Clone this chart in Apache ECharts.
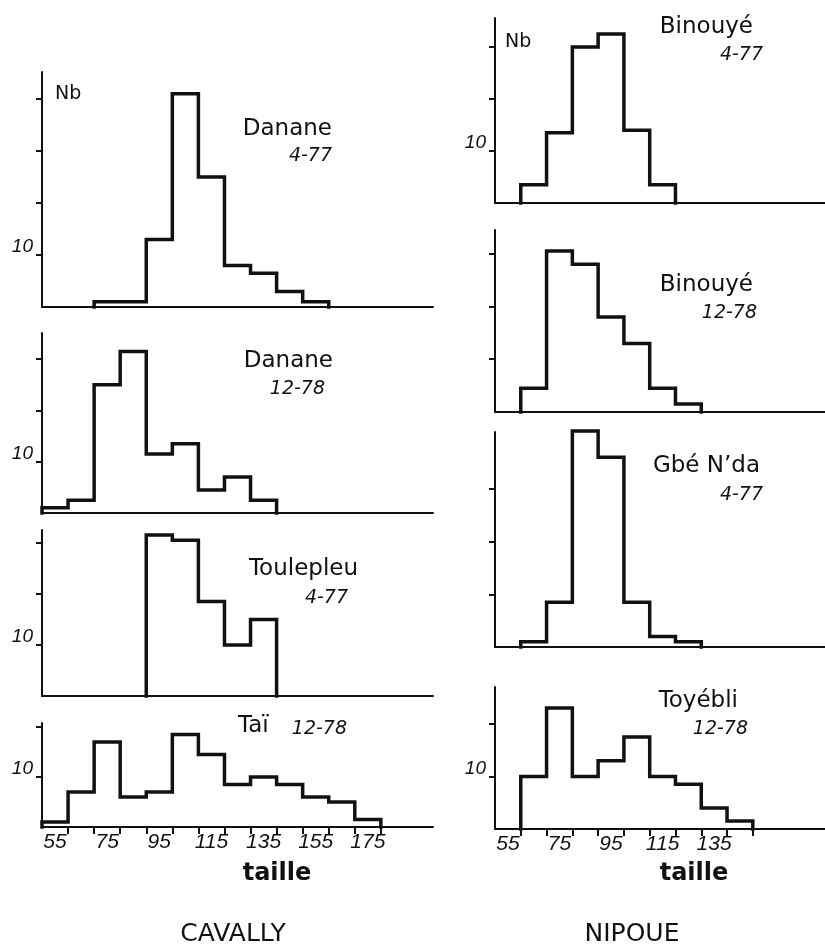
<!DOCTYPE html>
<html>
<head>
<meta charset="utf-8">
<script src="https://cdn.jsdelivr.net/npm/echarts@6/dist/echarts.min.js"></script>
<style>
html, body { margin: 0; padding: 0; background: #fff; }
#chart { width: 825px; height: 945px; }
</style>
</head>
<body>
<div id="chart"></div>
<script>
// lower edge of each 10 mm size class (taille)
const binLow = [50, 60, 70, 80, 90, 100, 110, 120, 130, 140, 150, 160, 170]
const xLabelsLeft = [55, 75, 95, 115, 135, 155, 175]
const xLabelsRight = [55, 75, 95, 115, 135]
const xTicksLeft = [60, 70, 80, 90, 100, 110, 120, 130, 140, 150, 160, 170, 180]
const xTicksRight = [60, 70, 80, 90, 100, 110, 120, 130, 140, 150]

// CAVALLY
const dananeAvr77 = [0, 0, 1, 1, 13, 41, 25, 8, 6.5, 3, 1, 0, 0]
const dananeDec78 = [1, 2.5, 25, 31.5, 11.5, 13.5, 4.5, 7, 2.5, 0, 0, 0, 0]
const toulepleuAvr77 = [0, 0, 0, 0, 31.5, 30.5, 18.5, 10, 15, 0, 0, 0, 0]
const taiDec78 = [1, 7, 17, 6, 7, 18.5, 14.5, 8.5, 10, 8.5, 6, 5, 1.5]

// NIPOUE
const binouyeAvr77 = [0, 3.5, 13.5, 30, 32.5, 14, 3.5, 0, 0, 0, 0, 0, 0]
const binouyeDec78 = [0, 4.5, 30.5, 28, 18, 13, 4.5, 1.5, 0, 0, 0, 0, 0]
const gbeNdaAvr77 = [0, 1, 8.5, 41, 36, 8.5, 2, 1, 0, 0, 0, 0, 0]
const toyebliDec78 = [0, 10, 23, 10, 13, 17.5, 10, 8.5, 4, 1.5, 0, 0, 0]

const INK = '#111'
const SANS = '"DejaVu Sans", sans-serif'
const NUM = '"Liberation Sans", Arial, sans-serif'

const panels = [
  { counts: dananeAvr77, left: 42, top: 72, width: 391, height: 235, xMax: 200, yMax: 45.2, yTicks: [10, 20, 30, 40], label10: true, bottom: false },
  { counts: dananeDec78, left: 42, top: 333, width: 391, height: 180, xMax: 200, yMax: 35.1, yTicks: [10, 20, 30], label10: true, bottom: false },
  { counts: toulepleuAvr77, left: 42, top: 530, width: 391, height: 166, xMax: 200, yMax: 32.5, yTicks: [10, 20, 30], label10: true, bottom: false },
  { counts: taiDec78, left: 42, top: 723, width: 391, height: 104, xMax: 200, yMax: 20.8, yTicks: [10, 20], label10: true, bottom: true, xLabels: xLabelsLeft, xTicks: xTicksLeft },
  { counts: binouyeAvr77, left: 495, top: 18, width: 330, height: 185, xMax: 178, yMax: 35.6, yTicks: [10, 20, 30], label10: true, bottom: false },
  { counts: binouyeDec78, left: 495, top: 230, width: 330, height: 182, xMax: 178, yMax: 34.5, yTicks: [10, 20, 30], label10: false, bottom: false },
  { counts: gbeNdaAvr77, left: 495, top: 432, width: 330, height: 215, xMax: 178, yMax: 40.8, yTicks: [10, 20, 30], label10: false, bottom: false },
  { counts: toyebliDec78, left: 495, top: 687, width: 330, height: 142, xMax: 178, yMax: 27, yTicks: [10, 20], label10: true, bottom: true, xLabels: xLabelsRight, xTicks: xTicksRight }
]

// histogram outline: [left edge, count] per class, closed to the baseline
function outline(counts) {
  let first = counts.findIndex(v => v > 0)
  let last = counts.length - 1
  while (last > first && !(counts[last] > 0)) last--
  const pts = [[binLow[first], 0]]
  for (let i = first; i <= last; i++) {
    pts.push([binLow[i], counts[i]])
  }
  pts.push([binLow[last] + 10, 0])
  return pts
}

function text(str, x, y, opts) {
  return {
    type: 'text',
    x: x,
    y: y,
    style: Object.assign({
      text: str,
      fill: INK,
      fontFamily: SANS,
      fontSize: 23,
      align: 'right',
      textAlign: 'right',
      verticalAlign: 'middle',
      textVerticalAlign: 'middle'
    }, opts || {})
  }
}

const italic = { fontStyle: 'italic', fontSize: 19 }
const left = { align: 'left', textAlign: 'left' }
const center = { align: 'center', textAlign: 'center' }

const option = {
  backgroundColor: '#fff',
  animation: false,
  grid: panels.map(p => ({
    left: p.left,
    top: p.top,
    width: p.width,
    height: p.height,
    outerBoundsMode: 'none'
  })),
  xAxis: panels.map((p, i) => ({
    type: 'value',
    gridIndex: i,
    min: 50,
    max: p.xMax,
    interval: 10,
    axisLine: { show: true, lineStyle: { color: INK, width: 2 } },
    axisTick: {
      show: p.bottom,
      customValues: p.xTicks || [],
      length: 7,
      lineStyle: { color: INK, width: 2 }
    },
    axisLabel: {
      show: p.bottom,
      customValues: p.xLabels || [],
      color: INK,
      fontFamily: NUM,
      fontStyle: 'italic',
      fontSize: 21,
      margin: 5
    },
    splitLine: { show: false }
  })),
  yAxis: panels.map((p, i) => ({
    type: 'value',
    gridIndex: i,
    min: 0,
    max: p.yMax,
    interval: 10,
    axisLine: { show: true, lineStyle: { color: INK, width: 2 } },
    axisTick: {
      show: true,
      customValues: p.yTicks,
      length: 6,
      lineStyle: { color: INK, width: 2 }
    },
    axisLabel: {
      show: p.label10,
      customValues: [10],
      color: INK,
      fontFamily: NUM,
      fontStyle: 'italic',
      fontSize: 19,
      margin: 9,
      verticalAlign: 'bottom',
      lineHeight: 16
    },
    splitLine: { show: false }
  })),
  series: panels.map((p, i) => ({
    type: 'line',
    xAxisIndex: i,
    yAxisIndex: i,
    step: 'end',
    symbol: 'none',
    clip: false,
    data: outline(p.counts),
    lineStyle: { color: INK, width: 3.5, join: 'miter', cap: 'square' }
  })),
  graphic: [
    text('Nb', 55, 94, Object.assign({ fontSize: 19 }, left)),
    text('Danane', 332, 129),
    text('4-77', 332, 156, italic),
    text('Danane', 333, 361),
    text('12-78', 325, 389, italic),
    text('Toulepleu', 358, 569),
    text('4-77', 348, 598, italic),
    text('Taï', 238, 726, left),
    text('12-78', 347, 729, italic),

    text('Nb', 505, 42, Object.assign({ fontSize: 19 }, left)),
    text('Binouyé', 753, 27),
    text('4-77', 763, 55, italic),
    text('Binouyé', 753, 285),
    text('12-78', 757, 313, italic),
    text('Gbé N\u2019da', 760, 466),
    text('4-77', 763, 495, italic),
    text('Toyébli', 738, 701),
    text('12-78', 748, 729, italic),

    text('taille', 277, 874, Object.assign({ fontWeight: 'bold', fontSize: 24 }, center)),
    text('taille', 694, 874, Object.assign({ fontWeight: 'bold', fontSize: 24 }, center)),
    text('CAVALLY', 233, 934, Object.assign({ fontSize: 25 }, center)),
    text('NIPOUE', 632, 934, Object.assign({ fontSize: 25 }, center))
  ]
}

const chart = echarts.init(document.getElementById('chart'))
chart.setOption(option)
</script>
</body>
</html>
